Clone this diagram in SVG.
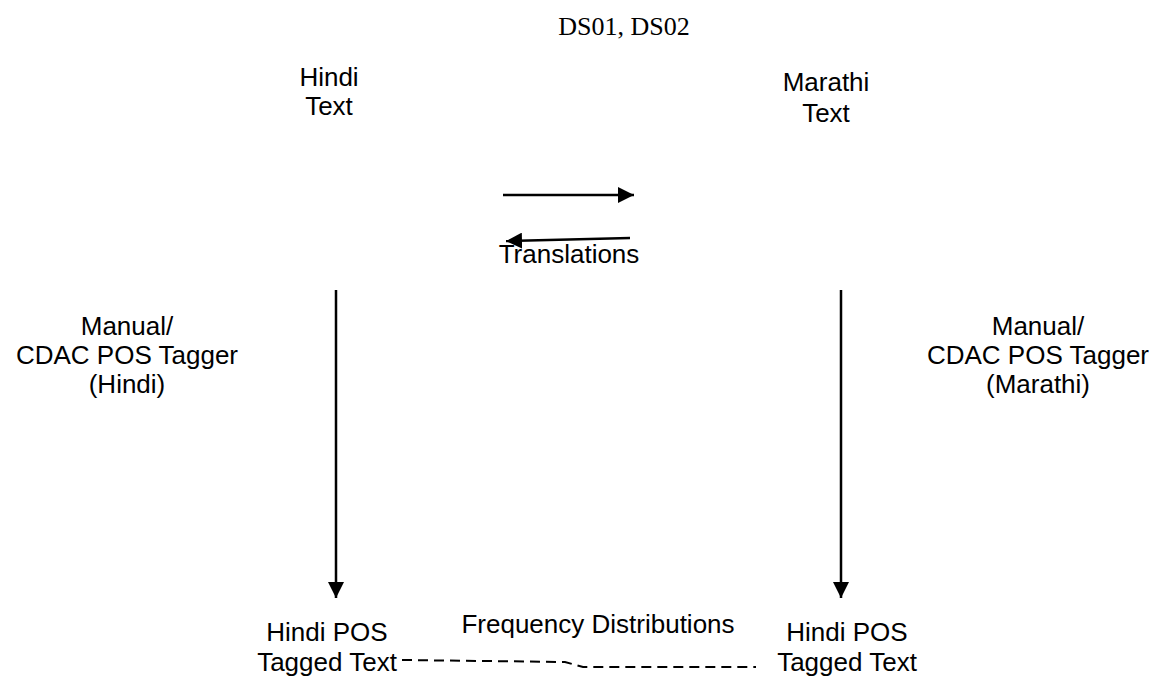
<svg xmlns="http://www.w3.org/2000/svg" width="1156" height="677" viewBox="0 0 1156 677">
<style>
.t{font-family:"Liberation Sans",Arial,sans-serif;font-size:26px;fill:#000;text-anchor:middle}
.s{font-family:"Liberation Serif","Times New Roman",serif;font-size:26px;fill:#000;text-anchor:middle}
.c{stroke:#000;stroke-width:2.5;fill:none}
.d{stroke:#000;stroke-width:2;fill:none;stroke-dasharray:10 6}
</style>
<defs>
<marker id="ah" viewBox="0 0 10 10" refX="10" refY="5" markerUnits="userSpaceOnUse" markerWidth="16" markerHeight="16" orient="auto">
<path d="M0,0 L10,5 L0,10 Z" fill="#000"/>
</marker>
</defs>
<rect width="1156" height="677" fill="#fff"/>
<g id="title"><text class="s" x="624" y="35">DS01, DS02</text></g>
<g id="hindi-text"><text class="t" x="329" y="86">Hindi</text><text class="t" x="329" y="115">Text</text></g>
<g id="marathi-text"><text class="t" x="826" y="91">Marathi</text><text class="t" x="826" y="122">Text</text></g>
<g id="translations"><text class="t" x="569" y="263">Translations</text></g>
<g id="tagger-hindi"><text class="t" x="127" y="335">Manual/</text><text class="t" x="127" y="364">CDAC POS Tagger</text><text class="t" x="127" y="393">(Hindi)</text></g>
<g id="tagger-marathi"><text class="t" x="1038" y="335">Manual/</text><text class="t" x="1038" y="364">CDAC POS Tagger</text><text class="t" x="1038" y="393">(Marathi)</text></g>
<g id="hindi-pos-left"><text class="t" x="327" y="641">Hindi POS</text><text class="t" x="327" y="671">Tagged Text</text></g>
<g id="hindi-pos-right"><text class="t" x="847" y="641">Hindi POS</text><text class="t" x="847" y="671">Tagged Text</text></g>
<g id="freq"><text class="t" x="598" y="633">Frequency Distributions</text></g>
<g id="connectors">
<line class="c" x1="503" y1="195" x2="634" y2="195" marker-end="url(#ah)"/>
<line class="c" x1="630" y1="238" x2="506" y2="241" marker-end="url(#ah)"/>
<line class="c" x1="336" y1="290" x2="336" y2="598" marker-end="url(#ah)"/>
<line class="c" x1="841" y1="290" x2="841" y2="598" marker-end="url(#ah)"/>
<path class="d" d="M402,660 L565,662 L583,667 L756,667"/>
</g>
</svg>
